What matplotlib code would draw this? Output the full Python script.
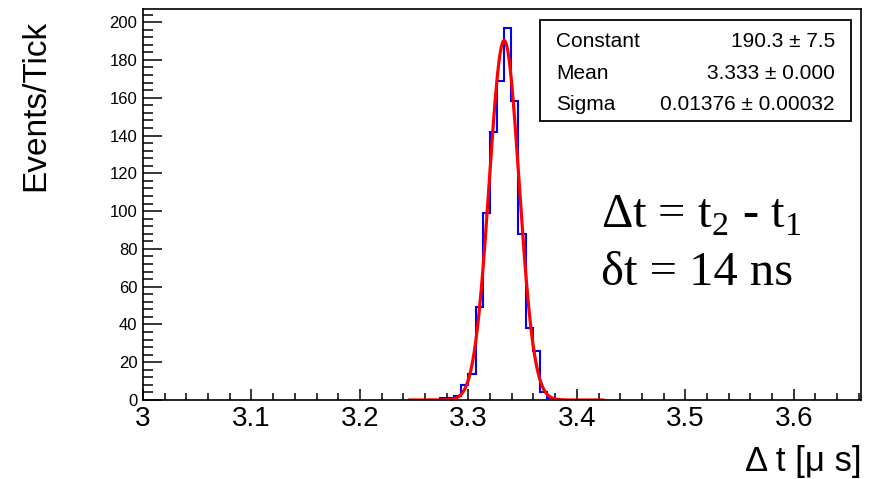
import numpy as np
import matplotlib.pyplot as plt
from matplotlib.patches import Rectangle
from matplotlib.ticker import MultipleLocator, FuncFormatter

plt.rcParams['font.family'] = ['Liberation Sans', 'DejaVu Sans']
plt.rcParams['mathtext.fontset'] = 'custom'
plt.rcParams['mathtext.rm'] = 'Liberation Serif'

# histogram of dt (bins of 0.0066 us starting at 3.2736)
first_edge = 3.2736
bin_width = 0.0066
counts = [1, 1, 2, 8, 14, 49, 99, 142, 169, 197, 158, 88, 38, 26, 4, 1]

# gaussian fit result
fit_const = 190.3
fit_mean = 3.333
fit_sigma = 0.01376
fit_range = (3.246, 3.424)

stat_names = ["Constant", "Mean", "Sigma"]
stat_values = ["190.3 ± 7.5", "3.333 ± 0.000", "0.01376 ± 0.00032"]

W, H = 869, 479
fig = plt.figure(figsize=(W / 100, H / 100), dpi=100)
ax = fig.add_axes([143 / W, 1 - 400 / H, (861 - 143) / W, (400 - 9.3) / H])

edges = first_edge + bin_width * np.arange(len(counts) + 1)
ax.stairs(counts, edges, color='blue', linewidth=1.5, baseline=0)

xf = np.linspace(fit_range[0], fit_range[1], 400)
yf = fit_const * np.exp(-0.5 * ((xf - fit_mean) / fit_sigma) ** 2)
ax.plot(xf, yf, color='red', linewidth=2.3)

ax.set_xlim(3.0, 3.662)
ax.set_ylim(0, 206.8)

ax.xaxis.set_major_locator(MultipleLocator(0.1))
ax.xaxis.set_minor_locator(MultipleLocator(0.02))
ax.yaxis.set_major_locator(MultipleLocator(20))
ax.yaxis.set_minor_locator(MultipleLocator(4))
ax.xaxis.set_major_formatter(FuncFormatter(lambda v, p: "%g" % round(v, 2)))

ax.tick_params(axis='x', which='major', direction='in', length=8, width=1.1,
               labelsize=20, pad=4)
ax.tick_params(axis='x', which='minor', direction='in', length=5, width=1.1)
ax.tick_params(axis='y', which='major', direction='in', length=14, width=1.1,
               labelsize=12, pad=4)
ax.tick_params(axis='y', which='minor', direction='in', length=7, width=1.1)
for s in ax.spines.values():
    s.set_linewidth(1.2)

# axis titles
fig.text(862 / W, 1 - 478 / H, "Δ t [μ s]", fontsize=25, ha='right', va='bottom')
fig.text(36 / W, 1 - 20 / H, "Events/Tick", fontsize=24, rotation=90,
         ha='center', va='top')

# stats box
box = Rectangle((540 / W, 1 - 121 / H), (851 - 540) / W, (121 - 20) / H,
                transform=fig.transFigure, facecolor='white', edgecolor='black',
                linewidth=1.3, zorder=5)
fig.patches.append(box)
baselines = [47, 79, 110]
for name, val, yb in zip(stat_names, stat_values, baselines):
    fig.text(556 / W, 1 - yb / H, name, fontsize=15, ha='left', va='baseline', zorder=6)
    fig.text(835 / W, 1 - yb / H, val, fontsize=15, ha='right', va='baseline', zorder=6)

# annotation
fig.text(601 / W, 1 - 228 / H, r"Δt = t$_\mathrm{2}$ - t$_\mathrm{1}$",
         fontsize=35, family='Liberation Serif', ha='left', va='baseline')
fig.text(601 / W, 1 - 285 / H, "δt = 14 ns",
         fontsize=35, family='Liberation Serif', ha='left', va='baseline')

fig.savefig("out.png", dpi=100)
